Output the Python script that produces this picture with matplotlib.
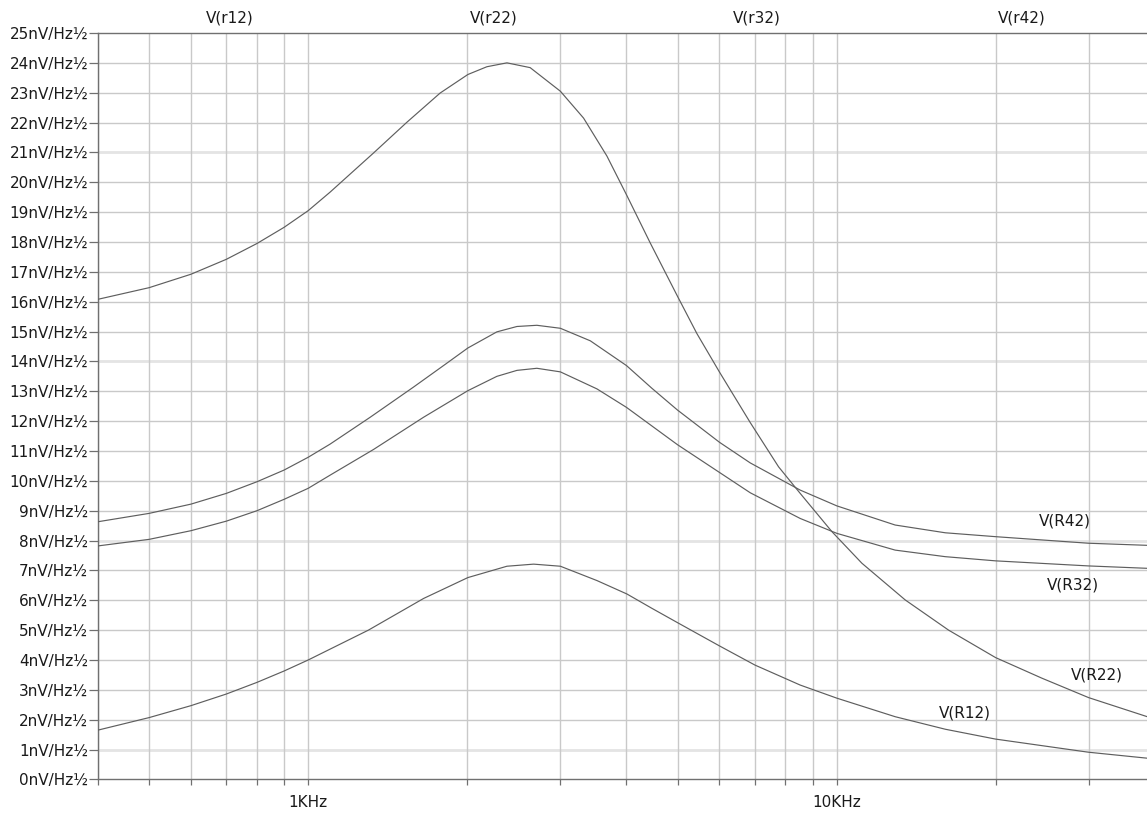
import numpy as np
import matplotlib
matplotlib.use("Agg")
import matplotlib.pyplot as plt
from matplotlib.ticker import FixedLocator, NullFormatter

# ---- data ----
f_r22 = [400, 500, 600, 700, 800, 900, 1000, 1100, 1329, 1537, 1777, 2005, 2178, 2377, 2630, 3000,
         3319, 3674, 4002, 4437, 4998, 5439, 6002, 6862, 7762, 8529, 9791, 11160, 13480, 16280,
         19980, 24450, 29960, 38690]
v_r22 = [16.08, 16.47, 16.92, 17.42, 17.95, 18.49, 19.05, 19.67, 20.98, 22.01, 22.99, 23.61, 23.87,
         24.00, 23.84, 23.05, 22.15, 20.88, 19.58, 17.97, 16.18, 14.93, 13.64, 11.95, 10.47, 9.58,
         8.30, 7.24, 6.01, 5.00, 4.08, 3.39, 2.74, 2.10]

f_r42 = [400, 500, 600, 700, 800, 900, 1000, 1100, 1310, 1582, 1816, 2005, 2275, 2483, 2708, 3000,
         3418, 4002, 4470, 4998, 6002, 6862, 8529, 10010, 12900, 16050, 19980, 29960, 38690]
v_r42 = [8.63, 8.91, 9.22, 9.58, 9.97, 10.36, 10.79, 11.23, 12.13, 13.14, 13.90, 14.45, 14.99, 15.17,
         15.21, 15.11, 14.69, 13.86, 13.10, 12.37, 11.29, 10.60, 9.69, 9.16, 8.52, 8.26, 8.13, 7.91, 7.84]

f_r32 = [400, 500, 600, 700, 800, 900, 1000, 1100, 1329, 1653, 2005, 2275, 2483, 2708, 3000, 3518,
         4002, 4998, 6002, 6862, 8529, 10010, 12900, 16050, 19980, 29960, 38690]
v_r32 = [7.82, 8.04, 8.33, 8.65, 9.00, 9.38, 9.75, 10.19, 11.05, 12.13, 13.02, 13.50, 13.70, 13.77,
         13.65, 13.08, 12.46, 11.21, 10.28, 9.60, 8.74, 8.24, 7.68, 7.46, 7.32, 7.15, 7.07]

f_r12 = [400, 500, 600, 700, 800, 900, 1000, 1300, 1653, 2005, 2377, 2670, 3000, 3518, 4009, 4470,
         4998, 6002, 7002, 8529, 10010, 12900, 16050, 19980, 29960, 38690]
v_r12 = [1.65, 2.07, 2.47, 2.86, 3.25, 3.63, 4.00, 5.00, 6.06, 6.76, 7.14, 7.21, 7.14, 6.66, 6.21,
         5.73, 5.25, 4.47, 3.83, 3.16, 2.72, 2.10, 1.68, 1.35, 0.91, 0.71]

series_names = ["V(R12)", "V(R22)", "V(R32)", "V(R42)"]
top_names = ["V(r12)", "V(r22)", "V(r32)", "V(r42)"]
y_ticks = list(range(0, 26))
x_major = [1000, 10000]
x_major_labels = ["1KHz", "10KHz"]
x_minor = [400, 500, 600, 700, 800, 900, 2000, 3000, 4000, 5000, 6000, 7000, 8000, 9000, 20000, 30000]

# label positions (frequency, value) for the curve annotations
label_pos = {"V(R42)": (27000, 8.65), "V(R32)": (28000, 6.51),
             "V(R22)": (31100, 3.50), "V(R12)": (17500, 2.23)}
# horizontal grid lines that render lighter/wider in the reference
soft_grid_levels = [1, 8, 14, 21]

# ---- figure ----
W, H = 1147, 814
fig = plt.figure(figsize=(W / 100, H / 100), dpi=100)
left_px, right_px = 97.9, 1154.9
top_px, bot_px = 33.0, 779.4
ax = fig.add_axes([left_px / W, 1 - bot_px / H, (right_px - left_px) / W, (bot_px - top_px) / H])

txt = "#1a1a1a"
line_c = "#5e5e5e"
grid_c = "#c9c9c9"
soft_c = "#e4e4e4"
spine_c = "#707070"

ax.set_xscale("log")
ax.set_xlim(400, 40000)
ax.set_ylim(0, 25)

for fx, vy in [(f_r12, v_r12), (f_r22, v_r22), (f_r32, v_r32), (f_r42, v_r42)]:
    ax.plot(fx, vy, color=line_c, lw=0.85, solid_joinstyle="round", zorder=3)

ax.xaxis.set_major_locator(FixedLocator(x_major))
ax.xaxis.set_minor_locator(FixedLocator(x_minor))
ax.set_xticklabels(x_major_labels)
ax.xaxis.set_minor_formatter(NullFormatter())
ax.set_yticks(y_ticks)
ax.set_yticklabels([f"{v}nV/Hz½" for v in y_ticks])

ax.grid(True, which="both", axis="x", color=grid_c, lw=1.0, zorder=0)
for lv in y_ticks:
    if lv in soft_grid_levels:
        ax.axhline(lv, color=soft_c, lw=2.0, zorder=0.5)
    elif 0 < lv < 25:
        ax.axhline(lv, color=grid_c, lw=1.0, zorder=0.5)

ax.tick_params(axis="y", which="major", length=6.5, width=0.9, color=spine_c, pad=0.5,
               labelsize=11, labelcolor=txt, direction="out")
ax.tick_params(axis="x", which="both", length=4.3, width=0.9, color=spine_c, pad=7,
               labelsize=11, labelcolor=txt, direction="out")

for s in ["left", "top", "bottom"]:
    ax.spines[s].set_color(spine_c)
    ax.spines[s].set_linewidth(1.0)
ax.spines["right"].set_visible(False)

for name in series_names:
    fx, vy = label_pos[name]
    ax.text(fx, vy, name, ha="center", va="center", fontsize=11, color=txt, zorder=4)

top_x = [230, 494, 757, 1022]
for name, px in zip(top_names, top_x):
    fig.text(px / W, 1 - 18 / H, name, ha="center", va="center", fontsize=11, color=txt)

fig.savefig("out.png", dpi=100, facecolor="white")
